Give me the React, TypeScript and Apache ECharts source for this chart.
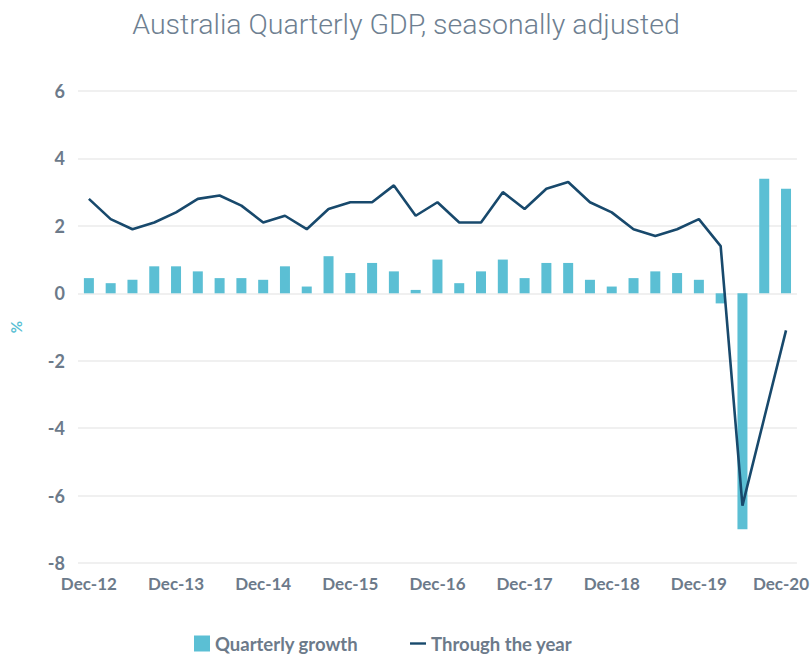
import React, { useEffect, useRef } from "react";
import * as echarts from "echarts";

const categories = [
  "Dec-12", "Mar-13", "Jun-13", "Sep-13",
  "Dec-13", "Mar-14", "Jun-14", "Sep-14",
  "Dec-14", "Mar-15", "Jun-15", "Sep-15",
  "Dec-15", "Mar-16", "Jun-16", "Sep-16",
  "Dec-16", "Mar-17", "Jun-17", "Sep-17",
  "Dec-17", "Mar-18", "Jun-18", "Sep-18",
  "Dec-18", "Mar-19", "Jun-19", "Sep-19",
  "Dec-19", "Mar-20", "Jun-20", "Sep-20",
  "Dec-20",
];

const quarterlyGrowth = [
  0.45, 0.3, 0.4, 0.8,
  0.8, 0.65, 0.45, 0.45,
  0.4, 0.8, 0.2, 1.1,
  0.6, 0.9, 0.65, 0.1,
  1.0, 0.3, 0.65, 1.0,
  0.45, 0.9, 0.9, 0.4,
  0.2, 0.45, 0.65, 0.6,
  0.4, -0.3, -7.0, 3.4,
  3.1,
];

const throughTheYear = [
  2.8, 2.2, 1.9, 2.1,
  2.4, 2.8, 2.9, 2.6,
  2.1, 2.3, 1.9, 2.5,
  2.7, 2.7, 3.2, 2.3,
  2.7, 2.1, 2.1, 3.0,
  2.5, 3.1, 3.3, 2.7,
  2.4, 1.9, 1.7, 1.9,
  2.2, 1.4, -6.3, -3.7,
  -1.1,
];

const TEAL = "#5bbfd4";
const NAVY = "#18496c";
const GRAY = "#6c7a8a";

export default function App() {
  const ref = useRef<HTMLDivElement>(null);
  useEffect(() => {
    if (!ref.current) return;
    document.documentElement.style.overflow = "hidden";
    document.body.style.overflow = "hidden";
    document.body.style.margin = "0";
    const chart = echarts.init(ref.current, undefined, { renderer: "svg" });
    const lastIdx = categories.length - 1;
    chart.setOption({
      animation: false,
      backgroundColor: "#ffffff",
      title: {
        text: "Australia Quarterly GDP, seasonally adjusted",
        left: "center",
        top: 5,
        textStyle: {
          fontFamily: "Roboto",
          fontWeight: 300,
          fontSize: 28.5,
          color: "#6e7f91",
        },
      },
      legend: {
        bottom: -4,
        left: 189,
        itemGap: 52,
        itemWidth: 16,
        itemHeight: 16,
        textStyle: {
          fontFamily: "Lato",
          fontWeight: "bold",
          fontSize: 18.5,
          color: GRAY,
        },
        data: [
          { name: "Quarterly growth", icon: "rect" },
          {
            name: "Through the year",
            icon: "path://M0,0 L20,0 L20,3 L0,3 Z",
            itemStyle: { color: NAVY },
          },
        ],
      },
      grid: { left: 74, right: 15, top: 91, bottom: 91, containLabel: false },
      xAxis: {
        type: "category",
        data: categories,
        boundaryGap: true,
        axisLine: { show: false },
        axisTick: { show: false },
        axisLabel: {
          interval: 3,
          margin: 12,
          fontFamily: "Lato",
          fontWeight: "bold",
          fontSize: 17,
          color: GRAY,
          formatter: (v: string, i: number) =>
            i === lastIdx ? "{last|" + v + "}" : v,
          rich: {
            last: {
              padding: [0, 10, 0, 0],
              fontFamily: "Lato",
              fontWeight: "bold",
              fontSize: 17,
              color: GRAY,
            },
          },
        },
      },
      yAxis: {
        type: "value",
        min: -8,
        max: 6,
        interval: 2,
        name: "%",
        nameLocation: "middle",
        nameRotate: 90,
        nameGap: 55,
        nameTextStyle: {
          color: TEAL,
          fontFamily: "Lato",
          fontWeight: "bold",
          fontSize: 15,
        },
        axisLine: { show: false },
        axisTick: { show: false },
        axisLabel: {
          margin: 13,
          fontFamily: "Lato",
          fontWeight: "bold",
          fontSize: 18,
          color: GRAY,
        },
        splitLine: { lineStyle: { color: "#ebebeb", width: 1.5 } },
      },
      series: [
        {
          name: "Quarterly growth",
          type: "bar",
          data: quarterlyGrowth,
          barWidth: 10,
          itemStyle: { color: TEAL },
        },
        {
          name: "Through the year",
          type: "line",
          data: throughTheYear,
          symbol: "none",
          lineStyle: { color: NAVY, width: 2.6 },
          itemStyle: { color: NAVY },
        },
      ],
    });
    return () => chart.dispose();
  }, []);
  return (
    <div
      ref={ref}
      style={{ width: 812, height: 654, overflow: "hidden" }}
    />
  );
}
